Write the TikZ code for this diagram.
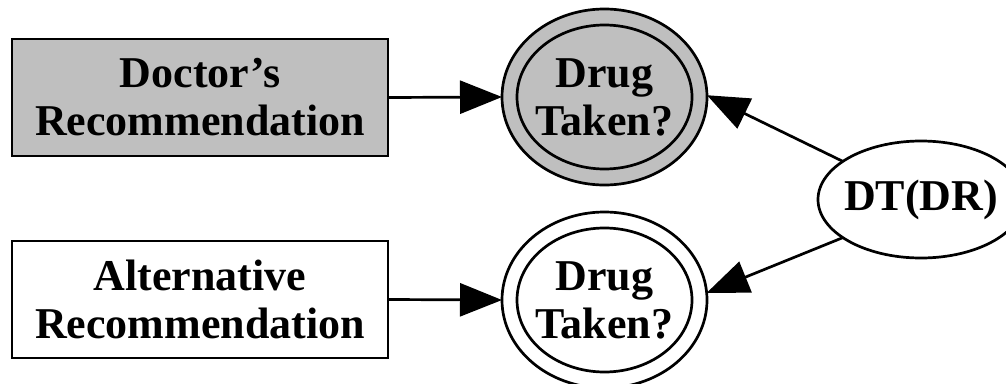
\documentclass[tikz,border=0pt]{standalone}
\usepackage{fontspec}
\setmainfont{Liberation Serif}
\usetikzlibrary{shapes.geometric,arrows.meta}
\definecolor{shade}{RGB}{191,191,191}
\begin{document}
\begin{tikzpicture}[x=1pt,y=-1pt,
  font=\fontsize{44}{48}\selectfont\bfseries,
  base/.style={line width=2.7pt, inner sep=0pt, outer sep=0pt},
  decision/.style={base, draw, rectangle, minimum width=376pt, minimum height=117pt, align=center},
  chance/.style={base, draw, ellipse, minimum width=205pt, minimum height=176pt},
  chanceinner/.style={base, draw, ellipse, minimum width=175pt, minimum height=144pt},
  policy/.style={base, draw, ellipse, minimum width=206pt, minimum height=117pt},
  caption/.style={inner sep=0pt, align=center},
  link/.style={line width=2.7pt, -{Triangle[length=42pt,width=33pt]}}
]
\useasboundingbox (0,0) rectangle (1006,383);

% recommendation (decision) boxes
\node[decision, fill=shade] (dr) at (200,97.5) {Doctor’s\\Recommendation};
\node[decision] (ar) at (200,299.5) {Alternative\\Recommendation};

% drug-taken chance nodes (double ellipses)
\node[chance, fill=shade] (dt1) at (604.5,97) {};
\node[chanceinner] (dt1in) at (dt1) {};
\node[caption] (dt1txt) at (dt1) {Drug\\Taken?};

\node[chance] (dt2) at (604.5,300) {};
\node[chanceinner] (dt2in) at (dt2) {};
\node[caption] (dt2txt) at (dt2) {Drug\\Taken?};

% policy node
\node[policy] (pol) at (921,199.5) {};
\node[caption] (poltxt) at (pol) {DT(DR)};

% connectors
\draw[link] (dr.east) -- (dt1.west);
\draw[link] (ar.east) -- (dt2.west);
\draw[link] (pol.154) -- (dt1.1);
\draw[link] (pol.206) -- (dt2.4);
\end{tikzpicture}
\end{document}
